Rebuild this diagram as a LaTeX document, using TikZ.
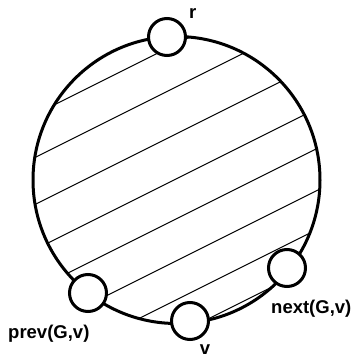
\documentclass[tikz,border=0pt]{standalone}
\usepackage{fontspec}
\setmainfont{Liberation Sans}
\begin{document}
\begin{tikzpicture}[x=1pt,y=-1pt,
  vert/.style={circle,draw,fill=white,line width=3pt,minimum size=37pt,inner sep=0pt},
  lab/.style={font=\bfseries\fontsize{18.5}{20}\selectfont,inner sep=0pt},
  hatch/.style={line width=1.1pt}]
\useasboundingbox (0,0) rectangle (351,359);
\coordinate (c) at (176.5,180);
\begin{scope}
  \clip (c) circle[radius=143.5];
  \foreach \k in {132,175,222,267,307,349,388,423}
    \draw[hatch] (0,\k) -- (351,\k-175.5);
\end{scope}
\draw[line width=3pt] (c) circle[radius=143.5];
\node[vert] (r) at (167,37) {};
\node[vert] (p) at (88,293) {};
\node[vert] (v) at (190,321) {};
\node[vert] (n) at (287,268) {};
\node[lab,anchor=base west] (rl) at (189,18) {r};
\node[lab,anchor=base west] (pl) at (8,338) {prev(G,v)};
\node[lab,anchor=base west] (nl) at (271,313) {next(G,v)};
\node[lab,anchor=base] (vl) at (205,354.5) {v};
\end{tikzpicture}
\end{document}
